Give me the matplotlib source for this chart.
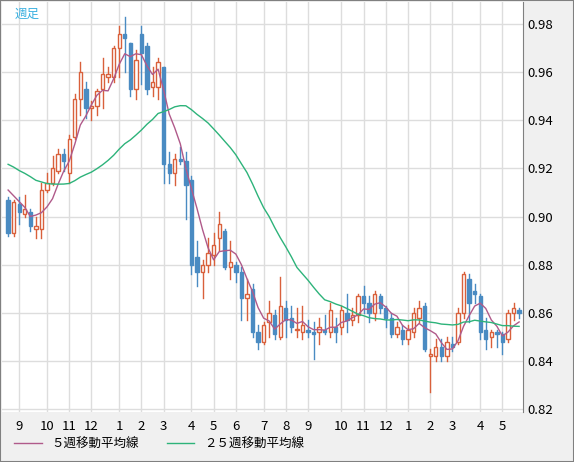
import numpy as np
import pandas as pd
import matplotlib.pyplot as plt
from matplotlib.patches import Rectangle
from matplotlib.lines import Line2D

plt.rcParams['font.family'] = ['Noto Sans CJK JP', 'DejaVu Sans']

# --- data (weekly OHLC) ---
opens = [.907, .893, .905, .901, .902, .895, .895, .911, .914, .919, .926, .918, .933, .949, .953, .945,
         .946, .953, .958, .958, .970, .976, .972, .953, .976, .971, .954, .954, .962, .922, .918, .924,
         .923, .915, .883, .877, .880, .884, .891, .894, .879, .880, .877, .866, .870, .852, .848, .856,
         .859, .850, .862, .858, .853, .852, .853, .852, .852, .853, .852, .854, .854, .860, .857, .859,
         .867, .864, .860, .867, .862, .858, .851, .853, .849, .852, .858, .863, .842, .842, .846, .842,
         .847, .848, .860, .874, .869, .867, .853, .850, .852, .851, .849, .860, .861]
closes = [.893, .906, .902, .903, .896, .896, .911, .914, .920, .926, .923, .932, .949, .960, .945, .946,
          .952, .959, .959, .970, .976, .974, .953, .965, .968, .953, .956, .964, .922, .918, .924, .923,
          .913, .880, .877, .880, .885, .888, .897, .879, .881, .877, .866, .868, .852, .848, .855, .860,
          .851, .863, .857, .854, .853, .855, .852, .851, .854, .852, .861, .852, .861, .857, .859, .867,
          .864, .860, .868, .862, .858, .851, .854, .849, .853, .860, .862, .845, .843, .846, .842, .848,
          .846, .860, .876, .864, .868, .852, .849, .852, .851, .848, .860, .862, .860]
highs = [.908, .907, .908, .909, .903, .900, .914, .918, .925, .928, .928, .934, .951, .964, .956, .948,
         .953, .966, .962, .971, .979, .983, .972, .969, .979, .972, .962, .966, .962, .927, .926, .929,
         .927, .917, .890, .882, .891, .893, .902, .895, .890, .881, .879, .874, .872, .855, .856, .865,
         .861, .875, .865, .863, .862, .863, .857, .856, .858, .859, .864, .858, .863, .868, .862, .868,
         .871, .867, .869, .868, .863, .860, .856, .855, .855, .862, .865, .864, .845, .849, .849, .850,
         .850, .862, .877, .876, .872, .868, .858, .853, .853, .852, .861, .864, .862]
lows = [.892, .892, .897, .900, .894, .891, .891, .910, .913, .918, .919, .914, .932, .942, .941, .940,
        .942, .945, .956, .956, .958, .960, .950, .949, .955, .951, .950, .949, .914, .914, .913, .922,
        .899, .876, .871, .866, .877, .880, .886, .878, .874, .873, .857, .857, .850, .845, .847, .850,
        .849, .849, .850, .852, .850, .849, .850, .841, .847, .851, .850, .848, .851, .852, .855, .856,
        .860, .856, .857, .860, .854, .850, .850, .847, .847, .850, .856, .844, .827, .840, .840, .840,
        .844, .847, .858, .856, .864, .849, .845, .846, .846, .843, .848, .857, .858]
# closes of the 24 weeks before the visible range (only used for the moving averages)
prior_closes = [.935, .938, .932, .930, .934, .928, .931, .925, .927, .922, .926, .920, .923, .918, .921,
                .916, .919, .913, .917, .912, .918, .914, .915, .915]

month_labels = ['9', '10', '11', '12', '1', '2', '3', '4', '5', '6', '7', '8', '9', '10', '11', '12',
                '1', '2', '3', '4', '5']
month_weeks = [2, 7, 11, 15, 20, 24, 28, 33, 37, 41, 46, 50, 54, 60, 64, 68, 72, 76, 80, 85, 89]

n = len(closes)
all_closes = pd.Series(prior_closes + closes)
ma5 = all_closes.rolling(5).mean().values[-n:]
ma25 = all_closes.rolling(25).mean().values[-n:]

UP = '#d9603b'
DOWN = '#4a8bc2'

fig = plt.figure(figsize=(5.74, 4.62), dpi=100, facecolor='#f0f0f0')
ax = fig.add_axes([2 / 574, 50 / 462, 521 / 574, 410 / 462])
ax.set_facecolor('white')

x = np.arange(n)
w = 0.6
for i in range(n):
    o, c, h, l = opens[i], closes[i], highs[i], lows[i]
    col = UP if c >= o else DOWN
    ax.plot([i, i], [l, h], color=col, lw=1, zorder=2)
    if c >= o:
        ax.add_patch(Rectangle((i - w / 2, o), w, max(c - o, 0.0004), facecolor='white',
                               edgecolor=col, lw=1, zorder=3))
    else:
        ax.add_patch(Rectangle((i - w / 2, c), w, max(o - c, 0.0004), facecolor=col,
                               edgecolor=col, lw=1, zorder=3))

ax.plot(x, ma5, color='#b05a8a', lw=1, zorder=4)
ax.plot(x, ma25, color='#2db37a', lw=1, zorder=4)

ax.set_xlim(-1.1, 92.7)
ax.set_ylim(0.8188, 0.9891)
ax.set_yticks([0.82, 0.84, 0.86, 0.88, 0.90, 0.92, 0.94, 0.96, 0.98])
ax.set_yticklabels([f'{v:.2f}' for v in ax.get_yticks()])
ax.yaxis.tick_right()
ax.set_xticks(month_weeks)
ax.set_xticklabels(month_labels)
ax.tick_params(length=0, labelsize=9.5, colors='black', pad=6)
ax.tick_params(axis='y', pad=3)
ax.grid(True, color='#dddddd', lw=1)
ax.set_axisbelow(True)
for s in ['top', 'left', 'bottom']:
    ax.spines[s].set_visible(False)
ax.spines['right'].set_color('#808080')

ax.text(0.025, 0.985, '週足', transform=ax.transAxes, color='#3ab0e0', fontsize=9, va='top')

handles = [Line2D([], [], color='#b05a8a', lw=1), Line2D([], [], color='#2db37a', lw=1)]
fig.legend(handles, ['５週移動平均線', '２５週移動平均線'], loc='lower left', bbox_to_anchor=(0.005, 0.0),
           ncol=2, frameon=False, fontsize=9, handlelength=2.2, columnspacing=2.2)

fig.patches.append(Rectangle((0, 0), 1, 1, transform=fig.transFigure, fill=False,
                             edgecolor='#808080', lw=1.5))
fig.savefig('out.png', dpi=100, facecolor=fig.get_facecolor())
